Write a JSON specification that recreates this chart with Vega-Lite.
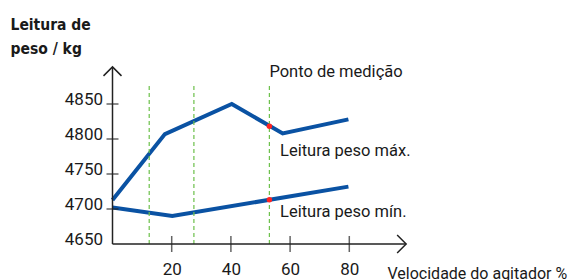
{
  "$schema": "https://vega.github.io/schema/vega-lite/v6.json",
  "width": 296,
  "height": 175,
  "autosize": {"type": "none"},
  "padding": {"left": 112.5, "top": 69, "right": 174.5, "bottom": 36},
  "background": "white",
  "config": {
    "view": {"stroke": null},
    "font": "Roboto",
    "axis": {"labelFont": "Roboto", "labelColor": "#1a1a1a", "titleColor": "#1a1a1a"}
  },
  "datasets": {
    "lines": [
      {"serie": "max", "x": 0, "y": 4713},
      {"serie": "max", "x": 17.7, "y": 4807},
      {"serie": "max", "x": 40.3, "y": 4850},
      {"serie": "max", "x": 57.5, "y": 4808},
      {"serie": "max", "x": 79.7, "y": 4828},
      {"serie": "min", "x": 0, "y": 4702},
      {"serie": "min", "x": 20.2, "y": 4690},
      {"serie": "min", "x": 79.7, "y": 4732}
    ],
    "guides": [{"x": 12.4}, {"x": 27.5}, {"x": 53}],
    "dots": [{"x": 53, "y": 4818.3}, {"x": 53, "y": 4713.2}],
    "yticks": [{"y": 4700}, {"y": 4750}, {"y": 4800}, {"y": 4850}],
    "xticks": [{"x": 20}, {"x": 40}, {"x": 60}, {"x": 80}],
    "notes": [
      {"x": 53, "y": 4888, "label": "Ponto de medição"},
      {"x": 56.6, "y": 4775.7, "label": "Leitura peso máx."},
      {"x": 56.6, "y": 4688, "label": "Leitura peso mín."}
    ]
  },
  "resolve": {"scale": {"x": "shared", "y": "shared"}},
  "layer": [
    {
      "data": {"name": "lines"},
      "mark": {"type": "line", "color": "#0a52a3", "strokeWidth": 4, "strokeJoin": "miter", "clip": false},
      "encoding": {
        "x": {
          "field": "x", "type": "quantitative",
          "scale": {"domain": [0, 100], "nice": false, "zero": false},
          "axis": {
            "values": [20, 40, 60, 80], "domain": false, "ticks": false, "tickSize": 0, "grid": false,
            "labelPadding": 30, "labelBaseline": "alphabetic", "labelFontSize": 17,
            "title": "Velocidade do agitador %", "titleFont": "Roboto", "titleFontWeight": "normal",
            "titleFontSize": 16, "titleAlign": "left", "titleBaseline": "alphabetic",
            "titleX": 274.5, "titleY": 34.5
          }
        },
        "y": {
          "field": "y", "type": "quantitative",
          "scale": {"domain": [4650, 4900], "nice": false, "zero": false},
          "axis": {
            "values": [4650, 4700, 4750, 4800, 4850], "format": "d", "domain": false, "ticks": false, "tickSize": 0, "grid": false,
            "labelPadding": 10, "labelBaseline": "alphabetic", "labelAlign": "right", "labelFontSize": 17,
            "title": ["Leitura de", "peso / kg"], "titleFont": "DejaVu Sans Condensed", "titleFontWeight": "bold",
            "titleFontSize": 15.5, "titleAngle": 0, "titleAlign": "left", "titleBaseline": "alphabetic",
            "titleX": -102.5, "titleY": -39.7, "titleLineHeight": 24
          }
        },
        "detail": {"field": "serie"}
      }
    },
    {
      "data": {"name": "guides"},
      "mark": {"type": "rule", "color": "#6cc04a", "strokeWidth": 1.2, "strokeDash": [4, 3]},
      "encoding": {
        "x": {"field": "x", "type": "quantitative"},
        "y": {"datum": 4650, "type": "quantitative"},
        "y2": {"datum": 4880}
      }
    },
    {
      "data": {"name": "dots"},
      "mark": {"type": "circle", "color": "#ff2222", "size": 30, "opacity": 1},
      "encoding": {
        "x": {"field": "x", "type": "quantitative"},
        "y": {"field": "y", "type": "quantitative"}
      }
    },
    {
      "data": {"values": [{}]},
      "mark": {"type": "rule", "color": "#222222", "strokeWidth": 1.5},
      "encoding": {
        "x": {"datum": 0, "type": "quantitative"},
        "x2": {"datum": 99.2},
        "y": {"datum": 4650, "type": "quantitative"}
      }
    },
    {
      "data": {"values": [{}]},
      "mark": {"type": "rule", "color": "#222222", "strokeWidth": 1.5, "clip": false},
      "encoding": {
        "x": {"datum": 0, "type": "quantitative"},
        "y": {"datum": 4650, "type": "quantitative"},
        "y2": {"datum": 4903}
      }
    },
    {
      "data": {"values": [{}]},
      "mark": {"type": "point", "shape": "M-1,-1L0,0L-1,1", "size": 324, "filled": false, "color": "#222222", "strokeWidth": 1.5, "opacity": 1, "clip": false},
      "encoding": {
        "x": {"datum": 99.2, "type": "quantitative"},
        "y": {"datum": 4650, "type": "quantitative"}
      }
    },
    {
      "data": {"values": [{}]},
      "mark": {"type": "point", "shape": "M-1,1L0,0L1,1", "size": 324, "filled": false, "color": "#222222", "strokeWidth": 1.5, "opacity": 1, "clip": false},
      "encoding": {
        "x": {"datum": 0, "type": "quantitative"},
        "y": {"datum": 4903, "type": "quantitative"}
      }
    },
    {
      "data": {"name": "yticks"},
      "mark": {"type": "tick", "orient": "horizontal", "color": "#222222", "thickness": 1.5, "size": 12},
      "encoding": {
        "x": {"datum": 0, "type": "quantitative"},
        "y": {"field": "y", "type": "quantitative"}
      }
    },
    {
      "data": {"name": "xticks"},
      "mark": {"type": "tick", "orient": "vertical", "color": "#222222", "thickness": 1.5, "size": 16},
      "encoding": {
        "x": {"field": "x", "type": "quantitative"},
        "y": {"datum": 4650, "type": "quantitative"}
      }
    },
    {
      "data": {"name": "notes"},
      "mark": {"type": "text", "align": "left", "baseline": "alphabetic", "fontSize": 16.5, "font": "Roboto", "color": "#1a1a1a", "clip": false},
      "encoding": {
        "x": {"field": "x", "type": "quantitative"},
        "y": {"field": "y", "type": "quantitative"},
        "text": {"field": "label"}
      }
    }
  ]
}
